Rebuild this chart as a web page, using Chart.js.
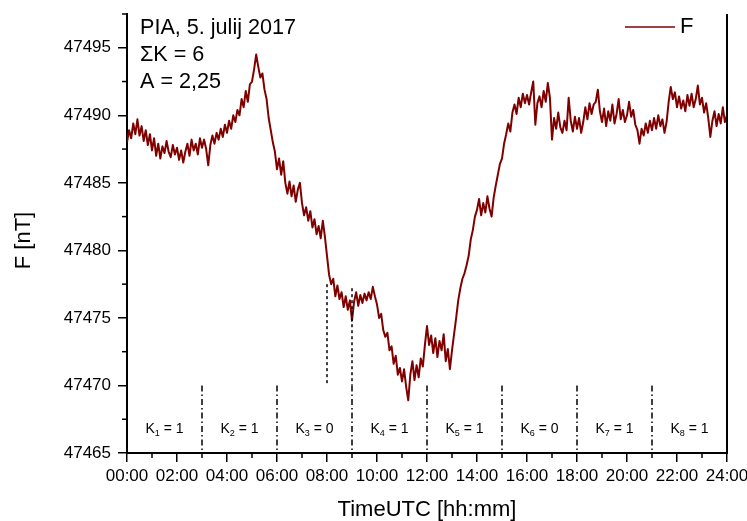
<!DOCTYPE html>
<html>
<head>
<meta charset="utf-8">
<script src="https://cdn.jsdelivr.net/npm/chart.js@4.4.1/dist/chart.umd.min.js"></script>
<style>
html,body{margin:0;padding:0;background:#fff;}
#wrap{width:747px;height:521px;position:relative;}
</style>
</head>
<body>
<div id="wrap"><canvas id="c" width="747" height="521"></canvas></div>
<script>
// ---------------- data ----------------
const sampleStepMinutes = 5;
const fValues = [
47488.0,47488.9,47488.3,47489.4,47488.6,47489.7,47488.5,47489.2,47488.1,47488.9,47487.8,47488.6,
47487.4,47488.3,47487.0,47487.9,47486.8,47487.7,47487.2,47488.1,47487.3,47486.9,47487.8,47487.1,
47487.6,47486.7,47487.4,47486.5,47487.3,47487.9,47487.0,47488.2,47487.4,47487.9,47487.1,47488.3,
47487.6,47488.2,47487.5,47486.3,47487.8,47488.5,47487.9,47488.7,47488.2,47489.0,47488.4,47489.3,
47488.7,47489.6,47489.0,47490.0,47489.5,47490.4,47490.0,47491.2,47490.6,47491.8,47491.0,47492.3,
47492.5,47493.4,47494.5,47493.6,47492.8,47493.1,47491.9,47491.2,47489.8,47488.9,47488.0,47487.3,
47486.0,47486.8,47485.6,47486.6,47485.0,47484.2,47485.1,47484.0,47484.8,47483.6,47484.5,47485.0,
47483.5,47482.6,47483.2,47482.2,47482.9,47481.7,47482.3,47481.2,47481.8,47480.9,47482.2,47481.0,
47479.6,47478.2,47477.5,47477.9,47476.6,47477.4,47476.4,47476.9,47475.8,47476.6,47475.6,47476.3,
47474.8,47476.2,47476.9,47475.9,47476.7,47476.1,47476.8,47476.3,47476.9,47476.4,47477.3,47476.6,
47476.0,47475.0,47475.3,47474.1,47473.6,47473.9,47472.6,47472.9,47471.6,47472.2,47470.8,47471.3,
47470.3,47471.2,47469.9,47468.9,47470.8,47471.8,47470.4,47471.5,47470.6,47472.0,47471.4,47473.0,
47474.4,47473.0,47473.7,47472.4,47473.5,47472.1,47473.3,47472.6,47473.8,47471.8,47472.7,47471.2,
47472.6,47473.8,47475.0,47476.3,47477.2,47477.9,47478.3,47478.9,47479.6,47480.8,47481.5,47482.5,
47483.0,47483.8,47482.6,47483.5,47482.8,47484.0,47483.1,47482.5,47483.9,47484.8,47485.6,47486.4,
47486.8,47487.9,47488.6,47489.4,47488.8,47490.2,47490.8,47490.1,47491.3,47490.6,47491.6,47490.9,
47491.5,47490.8,47491.7,47492.5,47489.3,47490.9,47491.4,47490.6,47491.8,47491.0,47492.4,47491.3,
47488.2,47489.8,47489.0,47490.2,47489.1,47488.7,47489.6,47488.9,47491.3,47489.6,47488.8,47489.9,
47489.0,47489.8,47488.7,47489.5,47490.6,47489.7,47490.9,47490.1,47490.8,47491.0,47491.9,47490.3,
47489.5,47490.5,47489.2,47490.3,47489.6,47490.8,47489.4,47490.1,47491.2,47489.7,47490.4,47489.5,
47490.0,47491.0,47489.9,47490.4,47489.3,47488.9,47487.9,47489.0,47488.5,47489.4,47488.7,47489.6,
47488.9,47489.8,47489.0,47490.0,47489.2,47489.7,47488.7,47489.5,47491.0,47492.1,47491.2,47491.7,
47490.6,47491.4,47490.5,47491.1,47490.3,47491.5,47490.7,47491.6,47490.6,47491.2,47492.2,47490.8,
47491.3,47490.2,47490.9,47489.8,47488.4,47489.6,47490.3,47489.2,47490.1,47489.4,47490.6,47489.5,
47490.0
];
const xTickHours = [0,2,4,6,8,10,12,14,16,18,20,22,24];
const xMinorHours = [1,3,5,7,9,11,13,15,17,19,21,23];
const yTickValues = [47465,47470,47475,47480,47485,47490,47495];
const yMinorValues = [47467.5,47472.5,47477.5,47482.5,47487.5,47492.5,47497.5];
const kBoundaryHours = [3,6,9,12,15,18,21];
const kIndices = ['1','2','3','4','5','6','7','8'];
const kValues = [1,1,0,1,1,0,1,1];
const kLabelValue = 47466.45;
const kLineTop = 47470;
const markerHours = [8,9];
const markerTops = [47477.5,47477.2];
const infoLines = ['PIA, 5. julij 2017','\u03A3K = 6','A = 2,25'];
const seriesName = 'F';
const xTitle = 'TimeUTC [hh:mm]';
const yTitle = 'F [nT]';
const yMin = 47465, yMax = 47497.5;

// ---------------- build ----------------
const points = fValues.map((v,i)=>({x: i*sampleStepMinutes/60, y: v}));
const FONT = '"Liberation Sans", Arial, sans-serif';
const RED = '#800000';
const pad2 = n => (n<10?'0':'')+n;

const decor = {
  id:'decor',
  afterDraw(chart){
    const ctx = chart.ctx, xs = chart.scales.x, ys = chart.scales.y, ca = chart.chartArea;
    ctx.save();
    ctx.strokeStyle = '#000'; ctx.fillStyle = '#000';
    ctx.lineWidth = 2;
    ctx.beginPath(); ctx.moveTo(ca.right, ca.top); ctx.lineTo(ca.right, ca.bottom+1); ctx.stroke();
    ctx.lineWidth = 1.5;
    xMinorHours.forEach(h=>{
      const px = xs.getPixelForValue(h);
      ctx.beginPath(); ctx.moveTo(px, ca.bottom); ctx.lineTo(px, ca.bottom+5); ctx.stroke();
    });
    yMinorValues.forEach(v=>{
      const py = ys.getPixelForValue(v);
      ctx.beginPath(); ctx.moveTo(ca.left, py); ctx.lineTo(ca.left-5, py); ctx.stroke();
    });
    ctx.lineWidth = 1.5;
    ctx.setLineDash([3,3]);
    markerHours.forEach((h,i)=>{
      const px = xs.getPixelForValue(h);
      ctx.beginPath(); ctx.moveTo(px, ys.getPixelForValue(markerTops[i])); ctx.lineTo(px, ys.getPixelForValue(kLineTop)); ctx.stroke();
    });
    ctx.setLineDash([6,3,1.5,3]);
    kBoundaryHours.forEach(h=>{
      const px = xs.getPixelForValue(h);
      ctx.beginPath(); ctx.moveTo(px, ys.getPixelForValue(kLineTop)); ctx.lineTo(px, ys.getPixelForValue(yMin)); ctx.stroke();
    });
    ctx.setLineDash([]);
    const edges = [0].concat(kBoundaryHours, [24]);
    const by = ys.getPixelForValue(kLabelValue);
    ctx.textBaseline = 'alphabetic'; ctx.textAlign = 'left';
    kIndices.forEach((idx,i)=>{
      const cx = xs.getPixelForValue((edges[i]+edges[i+1])/2);
      ctx.font = '14px '+FONT; const wK = ctx.measureText('K').width;
      const rest = ' = '+kValues[i];
      const wR = ctx.measureText(rest).width;
      ctx.font = '9px '+FONT; const wS = ctx.measureText(idx).width;
      let x0 = cx - (wK+wS+wR)/2;
      ctx.font = '14px '+FONT; ctx.fillText('K', x0, by);
      ctx.font = '9px '+FONT; ctx.fillText(idx, x0+wK, by+3);
      ctx.font = '14px '+FONT; ctx.fillText(rest, x0+wK+wS, by);
    });
    ctx.font = '21.6px '+FONT;
    infoLines.forEach((t,i)=>{ ctx.fillText(t, ca.left+13, 34+i*27); });
    ctx.strokeStyle = RED; ctx.lineWidth = 1.5;
    ctx.beginPath(); ctx.moveTo(625, 27); ctx.lineTo(675, 27); ctx.stroke();
    ctx.fillStyle = '#000'; ctx.font = '22px '+FONT; ctx.textBaseline='middle';
    ctx.fillText(seriesName, 680, 27);
    ctx.save();
    ctx.translate(24, 240.5); ctx.rotate(-Math.PI/2);
    ctx.textAlign='center'; ctx.textBaseline='middle'; ctx.font = '22px '+FONT;
    ctx.fillText(yTitle, 0, 0);
    ctx.restore();
    ctx.restore();
  }
};

new Chart(document.getElementById('c'), {
  type:'line',
  data:{ datasets:[{ label: seriesName, data: points, borderColor: RED, backgroundColor: RED,
    borderWidth: 2, pointRadius: 0, tension: 0, fill:false, borderJoinStyle:'round' }] },
  options:{
    responsive:false, animation:false, events:[],
    layout:{ padding:{ top:14, right:20, left:0, bottom:0 } },
    plugins:{ legend:{display:false}, tooltip:{enabled:false} },
    scales:{
      x:{ type:'linear', min:0, max:24,
        afterBuildTicks: s => { s.ticks = xTickHours.map(v=>({value:v})); },
        afterFit: s => { s.height = 68; s.paddingLeft = 0; s.paddingRight = 0; },
        ticks:{ autoSkip:false, maxRotation:0, padding:4, color:'#000',
          font:{ family:FONT, size:17 }, callback: v => pad2(v)+':00' },
        grid:{ display:true, drawOnChartArea:false, drawTicks:true, tickLength:9, lineWidth:1.5, color:'#000' },
        border:{ display:true, width:2, color:'#000' },
        title:{ display:true, text:xTitle, color:'#000', font:{ family:FONT, size:22, lineHeight:1 }, padding:{top:0,bottom:0} }
      },
      y:{ type:'linear', min:yMin, max:yMax,
        afterBuildTicks: s => { s.ticks = yTickValues.map(v=>({value:v})); },
        afterFit: s => { s.width = 127; s.paddingTop = 0; s.paddingBottom = 0; },
        ticks:{ padding:7, color:'#000', font:{ family:FONT, size:17 }, callback: v => String(v) },
        grid:{ display:true, drawOnChartArea:false, drawTicks:true, tickLength:9, lineWidth:1.5, color:'#000' },
        border:{ display:true, width:2, color:'#000' }
      }
    }
  },
  plugins:[decor]
});
</script>
</body>
</html>
